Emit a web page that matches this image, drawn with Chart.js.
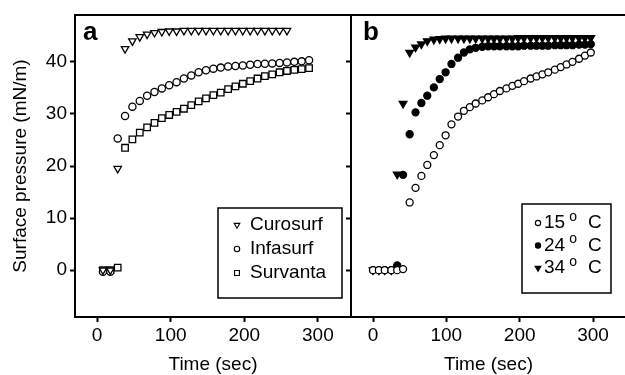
<!DOCTYPE html>
<html>
<head>
<meta charset="utf-8">
<script src="https://cdn.jsdelivr.net/npm/chart.js@4.4.0/dist/chart.umd.min.js"></script>
<style>
  html, body { margin: 0; padding: 0; background: #fff; }
  #wrap { position: relative; width: 625px; height: 375px; overflow: hidden; }
  #chartA { position: absolute; left: 0; top: 0; }
  #chartB { position: absolute; left: 340px; top: 0; }
</style>
</head>
<body>
<div id="wrap">
  <canvas id="chartA" width="352" height="375"></canvas>
  <canvas id="chartB" width="286" height="375"></canvas>
</div>
<script>
// panel a: surfactant preparations
const timeA = [8, 18, 28, 38, 48, 58, 68, 78, 88, 98, 108, 118, 128, 138, 148, 158, 168, 178, 188, 198, 208, 218, 228, 238, 248, 258, 268, 278, 288];
const curosurf = [0, 0, 19.5, 42.5, 44.0, 44.8, 45.3, 45.6, 45.8, 45.9, 45.9, 46.0, 46.0, 46.0, 46.0, 46.0, 46.0, 46.0, 46.0, 46.0, 46.0, 46.0, 46.0, 46.0, 46.0, 46.0];
const infasurf = [-0.3, -0.3, 25.3, 29.6, 31.4, 32.5, 33.5, 34.2, 34.9, 35.5, 36.1, 36.8, 37.4, 38.0, 38.4, 38.7, 38.9, 39.1, 39.2, 39.3, 39.45, 39.6, 39.65, 39.7, 39.8, 39.9, 40.0, 40.1, 40.3];
const survanta = [0, 0, 0.5, 23.5, 25.1, 26.4, 27.4, 28.3, 29.2, 29.8, 30.4, 31.0, 31.7, 32.4, 33.0, 33.6, 34.1, 34.75, 35.3, 35.8, 36.3, 36.8, 37.25, 37.6, 38.0, 38.25, 38.45, 38.6, 38.8];

// panel b: temperatures
const timeB = [0, 8, 16, 25, 33, 41, 50, 58, 66, 74, 83, 91, 99, 107, 116, 124, 132, 140, 149, 157, 165, 173, 182, 190, 198, 206, 215, 223, 231, 239, 248, 256, 264, 272, 281, 289, 297];
const temp15 = [0, 0, 0, 0, 0, 0.2, 13.0, 15.8, 18.1, 20.2, 22.1, 24.0, 25.9, 28.0, 29.5, 30.6, 31.3, 32.0, 32.6, 33.2, 33.8, 34.4, 34.9, 35.4, 35.8, 36.3, 36.8, 37.2, 37.6, 38.0, 38.5, 39.0, 39.5, 40.0, 40.6, 41.2, 41.8];
const temp24 = [0, 0, 0, 0, 0.9, 18.3, 26.1, 30.3, 32.1, 33.5, 35.1, 36.7, 38.0, 39.6, 40.8, 41.8, 42.4, 42.7, 42.9, 43.0, 43.0, 43.0, 43.0, 43.0, 43.0, 43.1, 43.1, 43.1, 43.1, 43.1, 43.2, 43.2, 43.2, 43.2, 43.3, 43.3, 43.4];
const temp34 = [0, 0, 0, 0, 18.4, 32.0, 41.8, 42.8, 43.4, 44.0, 44.3, 44.4, 44.5, 44.5, 44.5, 44.5, 44.5, 44.5, 44.5, 44.5, 44.5, 44.5, 44.5, 44.5, 44.6, 44.6, 44.6, 44.6, 44.6, 44.6, 44.6, 44.6, 44.6, 44.6, 44.6, 44.6, 44.6];

const xTicks = [0, 100, 200, 300];
const yTicks = [0, 10, 20, 30, 40];
const legendA = ["Curosurf", "Infasurf", "Survanta"];
const legendB = ["15", "24", "34"];

const FONT = "'Liberation Sans', Arial, Helvetica, sans-serif";
Chart.defaults.font.family = FONT;
Chart.defaults.color = "#000";

function pts(xs, ys) {
  return ys.map((y, i) => ({ x: xs[i], y: y }));
}

function marker(style, fill, rot, r) {
  return {
    pointStyle: style, rotation: rot, pointRadius: r,
    backgroundColor: fill, borderColor: "#000", borderWidth: 1.3
  };
}

const frame = {
  id: "frame",
  afterDraw(chart, args, o) {
    const { ctx, chartArea: a } = chart;
    ctx.save();
    ctx.strokeStyle = "#000";
    ctx.lineWidth = 2;
    ctx.strokeRect(a.left, a.top, a.right - a.left, a.bottom - a.top);

    ctx.fillStyle = "#000";
    ctx.font = "bold 26px " + FONT;
    ctx.textBaseline = "alphabetic";
    ctx.fillText(o.letter, o.letterX, 40);

    ctx.lineWidth = 1.5;
    ctx.strokeRect(o.box[0], o.box[1], o.box[2], o.box[3]);

    chart.data.datasets.forEach((ds, i) => {
      const y = o.rowY[i];
      ctx.fillStyle = ds.backgroundColor;
      ctx.strokeStyle = "#000";
      ctx.lineWidth = 1.1;
      Chart.helpers.drawPoint(ctx, {
        pointStyle: ds.pointStyle, rotation: ds.rotation,
        radius: ds.pointRadius * 0.75, borderWidth: 1.1
      }, o.markX, y);
      ctx.fillStyle = "#000";
      ctx.textBaseline = "middle";
      ctx.font = "19px " + FONT;
      if (o.degree) {
        // "15" + superscript o + "C"
        ctx.fillText(o.labels[i], o.textX, y);
        let x = o.textX + ctx.measureText(o.labels[i]).width + 4;
        ctx.font = "14px " + FONT;
        ctx.fillText("o", x, y - 6);
        x += ctx.measureText("o").width + 11;
        ctx.font = "19px " + FONT;
        ctx.fillText("C", x, y);
      } else {
        ctx.fillText(o.labels[i], o.textX, y);
      }
    });
    ctx.restore();
  }
};

function axes(showY) {
  const grid = {
    drawOnChartArea: false, drawTicks: true, tickLength: 5,
    tickWidth: 2, tickColor: "#000", color: "#000"
  };
  const border = { display: true, color: "#000", width: 2 };
  return {
    x: {
      type: "linear", min: -30, max: 345,
      grid: grid, border: border,
      afterBuildTicks: s => { s.ticks = xTicks.map(v => ({ value: v })); },
      afterFit: s => { s.height = 58; },
      ticks: { font: { size: 19 }, padding: 2, maxRotation: 0 },
      title: {
        display: true, text: "Time (sec)",
        font: { size: 19, lineHeight: 1 }, padding: { top: 0, bottom: 0.5 }
      }
    },
    y: {
      type: "linear", min: -9, max: 49,
      grid: grid, border: border,
      afterBuildTicks: s => { s.ticks = yTicks.map(v => ({ value: v })); },
      afterFit: s => { s.width = showY ? 75 : 11; },
      ticks: { font: { size: 19 }, padding: 3, color: showY ? "#000" : "rgba(0,0,0,0)" },
      title: {
        display: showY, text: "Surface pressure (mN/m)",
        font: { size: 19, lineHeight: 1 }, padding: { top: 11, bottom: 0 }
      }
    }
  };
}

new Chart(document.getElementById("chartA"), {
  type: "scatter",
  data: {
    datasets: [
      Object.assign({ label: legendA[0], data: pts(timeA, curosurf) }, marker("triangle", "#fff", 180, 4.3)),
      Object.assign({ label: legendA[1], data: pts(timeA, infasurf) }, marker("circle", "#fff", 0, 3.6)),
      Object.assign({ label: legendA[2], data: pts(timeA, survanta) }, marker("rect", "#fff", 0, 4.6))
    ]
  },
  plugins: [frame],
  options: {
    responsive: false, animation: false,
    layout: { autoPadding: false, padding: { top: 15, right: 1, left: 0, bottom: 0 } },
    scales: axes(true),
    plugins: {
      legend: { display: false }, tooltip: { enabled: false },
      frame: {
        letter: "a", letterX: 83,
        box: [218, 208, 124, 90], markX: 237, textX: 250,
        rowY: [225, 249, 273], labels: legendA, degree: false
      }
    }
  }
});

new Chart(document.getElementById("chartB"), {
  type: "scatter",
  data: {
    datasets: [
      Object.assign({ label: legendB[0], data: pts(timeB, temp15) }, marker("circle", "#fff", 0, 3.5)),
      Object.assign({ label: legendB[1], data: pts(timeB, temp24) }, marker("circle", "#000", 0, 3.5)),
      Object.assign({ label: legendB[2], data: pts(timeB, temp34) }, marker("triangle", "#000", 180, 4.4))
    ]
  },
  plugins: [frame],
  options: {
    responsive: false, animation: false,
    layout: { autoPadding: false, padding: { top: 15, right: 0, left: 0, bottom: 0 } },
    scales: axes(false),
    plugins: {
      legend: { display: false }, tooltip: { enabled: false },
      frame: {
        letter: "b", letterX: 23,
        box: [182, 204, 89, 89], markX: 198, textX: 204,
        rowY: [223, 245.5, 268], labels: legendB, degree: true
      }
    }
  }
});
</script>
</body>
</html>
